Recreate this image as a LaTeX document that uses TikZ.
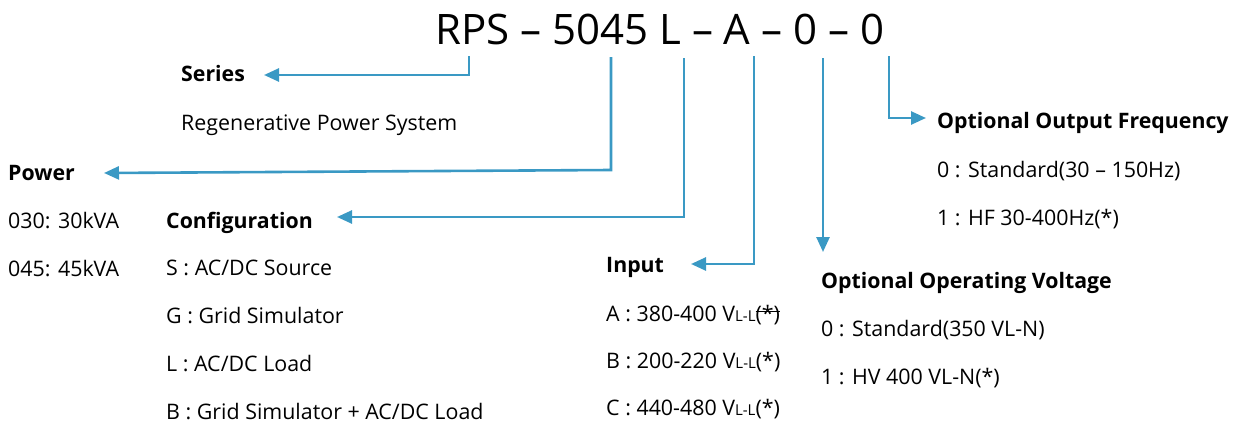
\documentclass[tikz,border=0pt]{standalone}
\usepackage{fontspec}
\setmainfont{Open Sans}
\usetikzlibrary{arrows.meta}
\definecolor{arrblue}{RGB}{58,153,196}
\tikzset{
  txt/.style={anchor=base west, inner sep=0pt, font=\fontsize{21.4}{24}\selectfont},
  head/.style={txt, font=\fontsize{21.3}{24}\selectfont\bfseries},
  conn/.style={draw=arrblue, line width=2.6pt, -{Triangle[length=15pt,width=13pt]}},
}
\newcommand{\vll}{V{\fontsize{15}{18}\selectfont L-L}}
\newcommand{\mystrk}[1]{\setbox0\hbox{#1}\rlap{\raisebox{0.75ex}{\rule{\wd0}{1pt}}}\box0}
\begin{document}
\begin{tikzpicture}[x=1pt,y=-1pt]
\useasboundingbox (0,0) rectangle (1238,423);
% title
\node[txt, font=\fontsize{42}{48}\selectfont] (title) at (435,44) {RPS -- 5045 L -- A -- 0 -- 0};
\coordinate (t1) at (469,56);
\coordinate (t2) at (611,57);
\coordinate (t3) at (684,58);
\coordinate (t4) at (754,56);
\coordinate (t5) at (823,58);
\coordinate (t6) at (889,56);
% headings
\node[head] (series) at (181,81) {Series};
\node[txt] (regen) at (181,130) {Regenerative Power System};
\node[head] (power) at (8,180) {Power};
\node[txt] (p30) at (8,228) {030: 30kVA};
\node[txt] (p45) at (8,276) {045: 45kVA};
\node[head] (config) at (166,228) {Configuration};
\node[txt] (cS) at (166,275) {S : AC/DC Source};
\node[txt] (cG) at (166,323) {G : Grid Simulator};
\node[txt] (cL) at (166,371) {L : AC/DC Load};
\node[txt] (cB) at (166,419) {B : Grid Simulator + AC/DC Load};
\node[head] (input) at (606,272) {Input};
\node[txt] (iA) at (606,321) {A : 380-400 \vll\mystrk{(*)}};
\node[txt] (iB) at (606,368) {B : 200-220 \vll(*)};
\node[txt] (iC) at (606,415) {C : 440-480 \vll(*)};
\node[head] (volt) at (821,288) {Optional Operating Voltage};
\node[txt] (v0) at (821,336) {0 : Standard(350 VL-N)};
\node[txt] (v1) at (821,384) {1 : HV 400 VL-N(*)};
\node[head] (freq) at (937,128) {Optional Output Frequency};
\node[txt] (f0) at (937,177) {0 : Standard(30 -- 150Hz)};
\node[txt] (f1) at (937,225) {1 : HF 30-400Hz(*)};
% arrow tips
\coordinate (aSeries) at (264,75);
\coordinate (aPowerC) at (611,170);
\coordinate (aPower) at (104,173);
\coordinate (aConfig) at (337,217);
\coordinate (aInput) at (691,264);
\coordinate (aVolt) at (823,252);
\coordinate (aFreq) at (926,118);
% connectors
\draw[conn] (t1) |- (aSeries);
\draw[conn] (t2) -- (aPowerC) -- (aPower);
\draw[conn] (t3) |- (aConfig);
\draw[conn] (t4) |- (aInput);
\draw[conn] (t5) -- (aVolt);
\draw[conn] (t6) |- (aFreq);
\end{tikzpicture}
\end{document}
